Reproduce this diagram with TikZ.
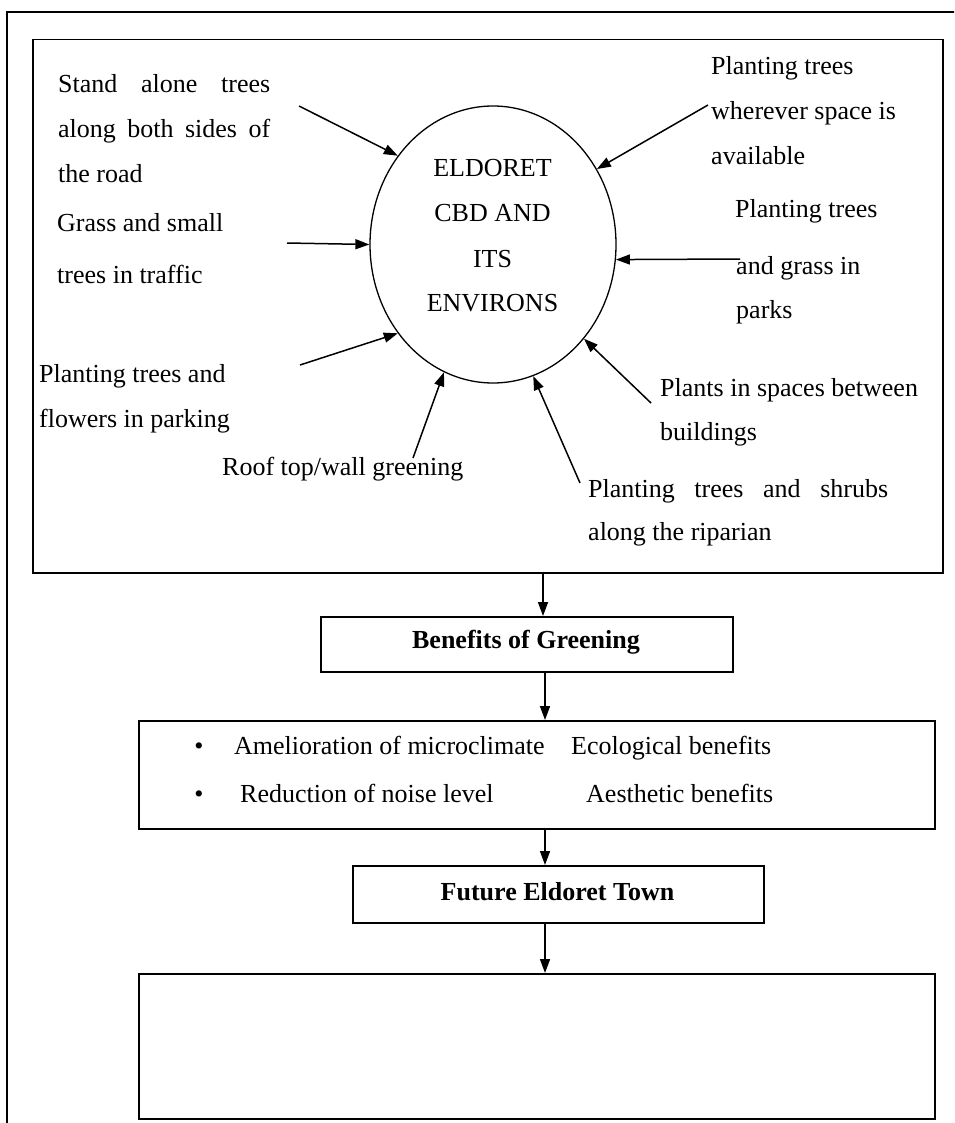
\documentclass[tikz,border=0pt]{standalone}
\usepackage{fontspec}
\setmainfont{Liberation Serif}
\usetikzlibrary{arrows.meta,shapes.geometric}
\begin{document}
\begin{tikzpicture}[x=1pt,y=-1pt,
  txt/.style={inner sep=0pt, font=\fontsize{26}{30}\selectfont},
  lbl/.style={txt, anchor=base west},
  mid/.style={txt, anchor=base},
  boxed/.style={draw, line width=1.5pt, anchor=north west, inner sep=0pt},
  arr/.style={line width=1.5pt, -{Triangle[length=14pt,width=10pt]}},
  ]
\useasboundingbox (0,0) rectangle (954,1123);
\clip (0,0) rectangle (954,1123);

% page frame (only its top and left sides fall on the page)
\draw[line width=1.5pt] (7,1140) -- (7,12) -- (970,12);

% boxes
\node[boxed, minimum width=910pt, minimum height=533pt] (top) at (32,39) {};
\node[boxed, minimum width=412pt, minimum height=55pt] (ben) at (320,616) {};
\node[boxed, minimum width=796pt, minimum height=108pt] (bul) at (138,720) {};
\node[boxed, minimum width=411pt, minimum height=57pt] (fut) at (352,865) {};
\node[boxed, minimum width=796pt, minimum height=145pt] (last) at (138,973) {};

% central ellipse
\node[draw, ellipse, line width=1.3pt, minimum width=246pt, minimum height=277pt, inner sep=0pt] (hub) at (493,244.5) {};
\node[mid] (h1) at (492.5,177) {ELDORET};
\node[mid] (h2) at (492.5,222) {CBD AND};
\node[mid] (h3) at (492.5,267) {ITS};
\node[mid] (h4) at (492.5,311) {ENVIRONS};

% greening measures
\node[lbl] (s1) at (58,93) {\makebox[212pt][s]{Stand alone trees}};
\node[lbl] (s2) at (58,138) {\makebox[212pt][s]{along both sides of}};
\node[lbl] (s3) at (58,183) {the road};
\node[lbl] (g1) at (57,232) {Grass and small};
\node[lbl] (g2) at (57,283) {trees in traffic};
\node[lbl] (p1) at (39,382) {Planting trees and};
\node[lbl] (p2) at (39,427) {flowers in parking};
\node[lbl] (r1) at (222,475) {Roof top/wall greening};
\node[lbl] (w1) at (711,75) {Planting trees};
\node[lbl] (w2) at (711,120) {wherever space is};
\node[lbl] (w3) at (711,165) {available};
\node[lbl] (k1) at (735,218) {Planting trees};
\node[lbl] (k2) at (736,274) {and grass in};
\node[lbl] (k3) at (736,318) {parks};
\node[lbl] (b1) at (660,396) {Plants in spaces between};
\node[lbl] (b2) at (660,440) {buildings};
\node[lbl] (v1) at (588,497) {\makebox[300pt][s]{Planting trees and shrubs}};
\node[lbl] (v2) at (588,540) {along the riparian};

% arrow tails
\coordinate (t1) at (299,106);
\coordinate (t2) at (287,243);
\coordinate (t3) at (300,365);
\coordinate (t4) at (413,458);
\coordinate (t5) at (580,483);
\coordinate (t6) at (651,403);
\coordinate (t7) at (740,259);
\coordinate (t8) at (708,105);

\draw[arr] (t1) -- (hub.137);
\draw[arr] (t2) -- (hub.180);
\draw[arr] (t3) -- (hub.223);
\draw[arr] (t4) -- (hub.249.5);
\draw[arr] (t5) -- (hub.287);
\draw[arr] (t6) -- (hub.314);
\draw[arr] (t7) -- (hub.353.3);
\draw[arr] (t8) -- (hub.36.4);

% lower chain
\node[mid, font=\fontsize{26}{30}\selectfont\bfseries] (bentxt) at (526,648) {Benefits of Greening};
\node[mid] (d1) at (199,754) {\textbullet};
\node[lbl] (e1) at (234,754) {Amelioration of microclimate};
\node[lbl] (e2) at (571,754) {Ecological benefits};
\node[mid] (d2) at (199,802) {\textbullet};
\node[lbl] (e3) at (240,802) {Reduction of noise level};
\node[lbl] (e4) at (586,802) {Aesthetic benefits};
\node[mid, font=\fontsize{26}{30}\selectfont\bfseries] (futtxt) at (557.5,900) {Future Eldoret Town};

\coordinate (ax1) at (543,0);
\coordinate (ax2) at (545,0);
\draw[arr] (top.south -| ax1) -- (ben.north -| ax1);
\draw[arr] (ben.south -| ax2) -- (bul.north -| ax2);
\draw[arr] (bul.south -| ax2) -- (fut.north -| ax2);
\draw[arr] (fut.south -| ax2) -- (last.north -| ax2);
\end{tikzpicture}
\end{document}
